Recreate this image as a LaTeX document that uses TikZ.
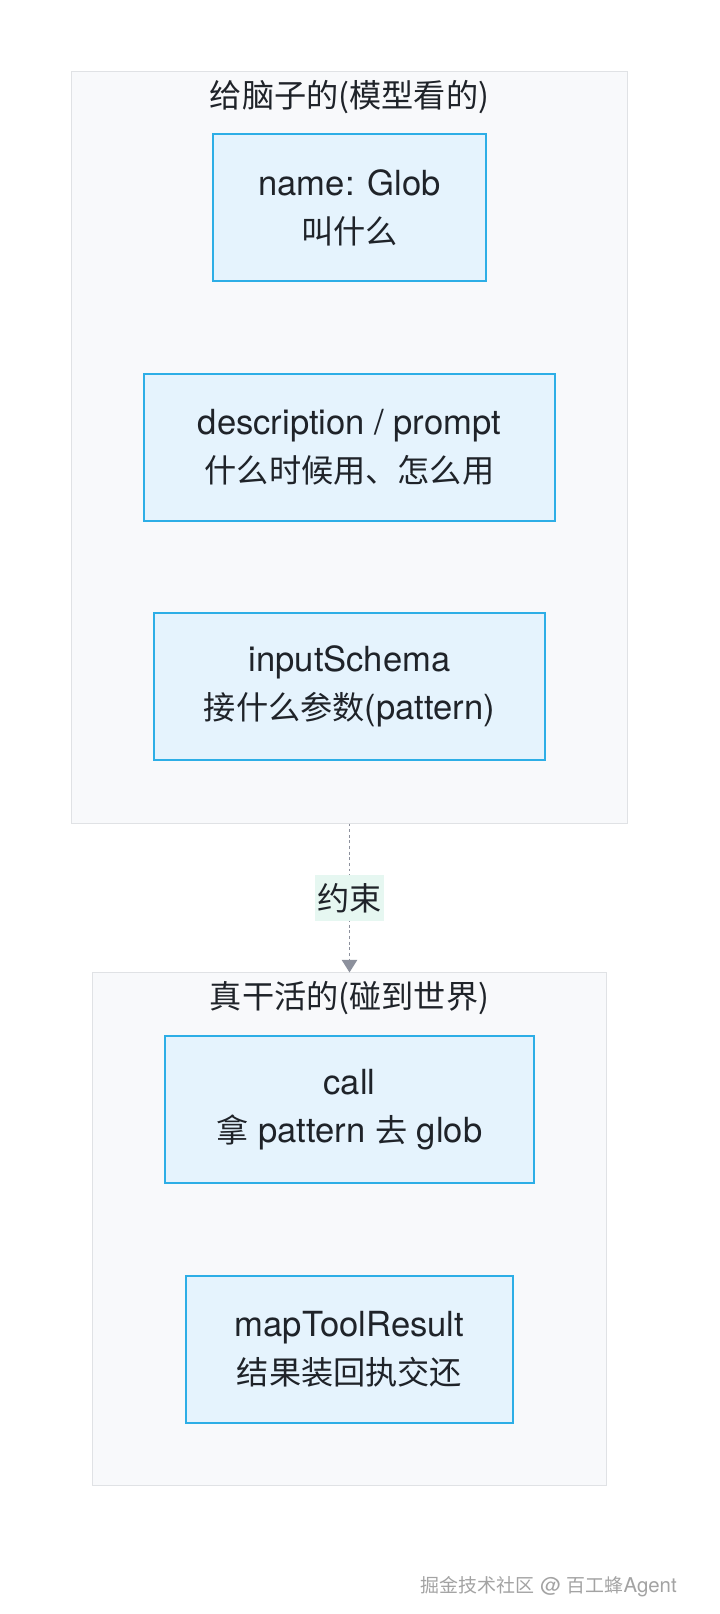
\documentclass[tikz,border=0pt]{standalone}
\usepackage{fontspec}
\setmainfont{TeX Gyre Heros}
\newfontfamily\cjk{Noto Sans CJK SC}[Scale=0.93]
\usetikzlibrary{arrows.meta}

\definecolor{panelfill}{HTML}{F8F9FB}
\definecolor{panelline}{HTML}{E0E2E5}
\definecolor{cardfill}{HTML}{E5F3FD}
\definecolor{cardline}{HTML}{2DAEE6}
\definecolor{inktext}{HTML}{1F2329}
\definecolor{linkgray}{HTML}{8C909C}
\definecolor{tagfill}{HTML}{E6F7F1}
\definecolor{markgray}{HTML}{A3A3A3}

\tikzset{
	panel/.style={draw=panelline, fill=panelfill, line width=0.7pt, inner sep=0pt},
	card/.style={draw=cardline, fill=cardfill, line width=1pt, align=center, text=inktext,
		font=\fontsize{24.6}{34}\selectfont, minimum height=3.675cm, inner sep=0pt},
	paneltitle/.style={text=inktext, font=\fontsize{24.6}{28}\selectfont, inner sep=0pt},
	link/.style={draw=linkgray, line width=1pt, dash pattern=on 2pt off 2pt,
		-{Triangle[width=11pt, length=9pt, fill=linkgray]}},
	tag/.style={fill=tagfill, text=inktext, font=\fontsize{24.6}{28}\selectfont,
		inner xsep=2pt, inner ysep=6pt},
	sitemark/.style={text=markgray, font=\fontsize{14.5}{16}\selectfont, inner sep=0pt}
}

\begin{document}
\begin{tikzpicture}[x=0.025cm, y=-0.025cm]
	%%%%% START %%%%%

	\fill[white] (0, 0) rectangle (720, 1614);

	% model side
	\node[panel, minimum width=13.875cm, minimum height=18.775cm] (brain) at (349.5, 447.5) {};
	\node[paneltitle] (braintitle) at (349.5, 97) {\cjk 给脑子的(模型看的)};

	\node[card, minimum width=6.825cm] (name) at (349.5, 207.5) {name: Glob\\{\cjk 叫什么}};
	\node[card, minimum width=10.275cm] (desc) at (349.5, 447.5) {description / prompt\\{\cjk 什么时候用、怎么用}};
	\node[card, minimum width=9.775cm] (schema) at (349.5, 686.5) {inputSchema\\{\cjk 接什么参数}(pattern)};

	% world side
	\node[panel, minimum width=12.825cm, minimum height=12.8cm] (world) at (349.5, 1229) {};
	\node[paneltitle] (worldtitle) at (349.5, 998) {\cjk 真干活的(碰到世界)};

	\node[card, minimum width=9.225cm] (call) at (349.5, 1109.5) {call\\{\cjk 拿} pattern {\cjk 去} glob};
	\node[card, minimum width=8.175cm] (result) at (349.5, 1349.5) {mapToolResult\\{\cjk 结果装回执交还}};

	\draw[link] (brain) -- node[tag] (bind) {\cjk 约束} (world);

	\node[sitemark, anchor=east] (watermark) at (677, 1587) {{\cjk 掘金技术社区} @ {\cjk 百工蜂}Agent};

	%%%%% END %%%%%
\end{tikzpicture}
\end{document}
